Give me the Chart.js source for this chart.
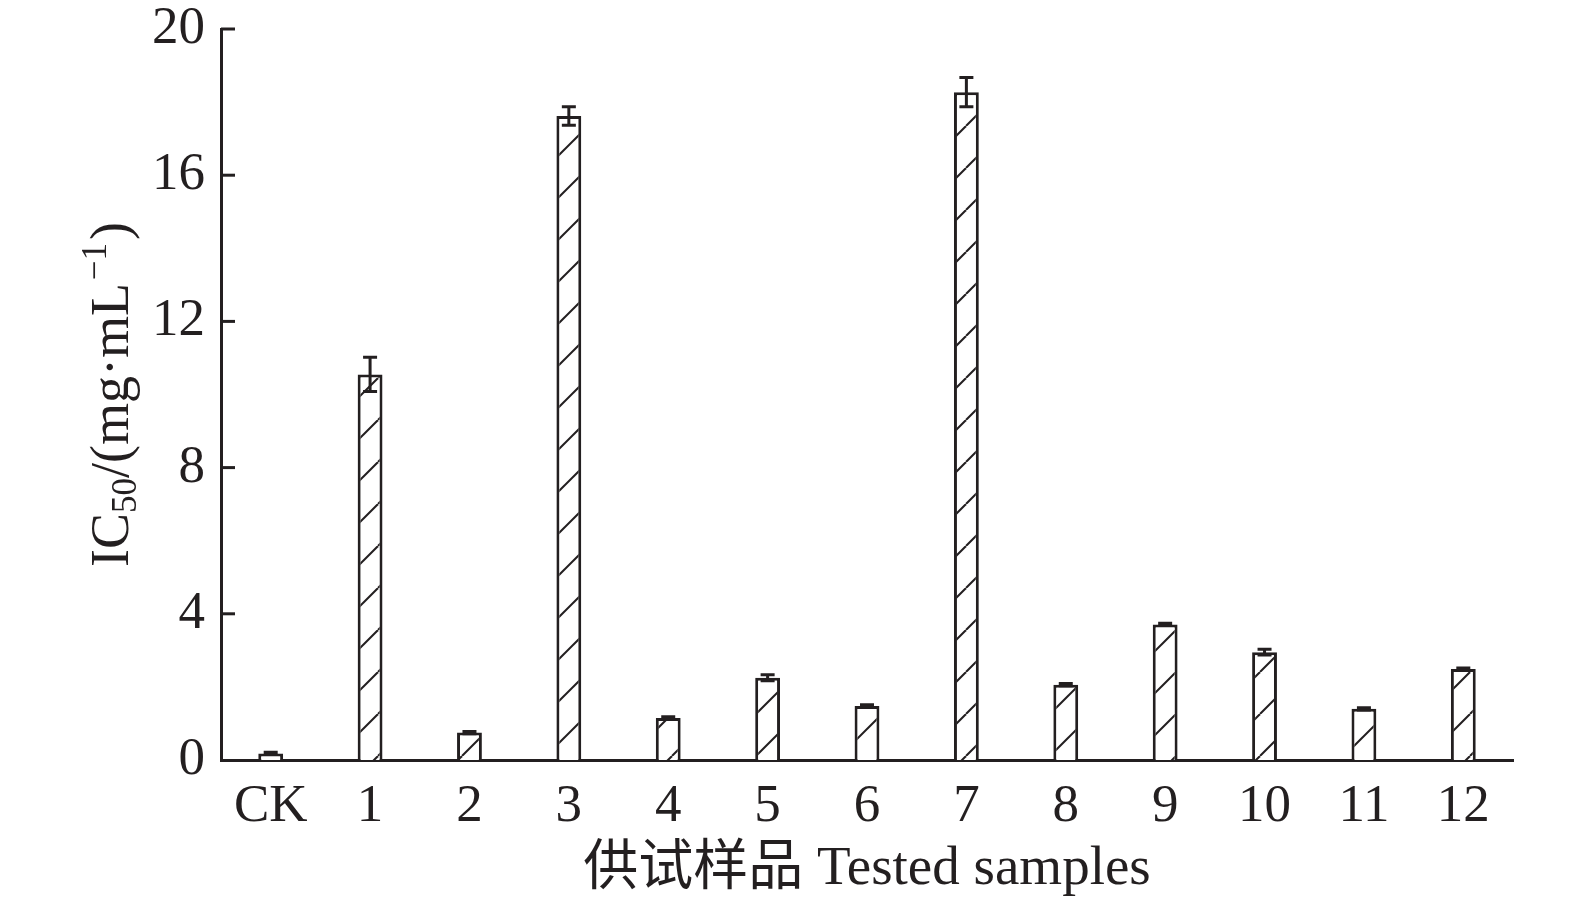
<!DOCTYPE html>
<html>
<head>
<meta charset="utf-8">
<script src="https://cdn.jsdelivr.net/npm/chart.js@4/dist/chart.umd.min.js"></script>
<style>
html,body{margin:0;padding:0;background:#fff;}
#wrap{width:1575px;height:904px;position:relative;}
</style>
</head>
<body>
<div id="wrap"><canvas id="c" width="1575" height="904"></canvas></div>
<script>
const categories = ['CK','1','2','3','4','5','6','7','8','9','10','11','12'];
const values = [0.18, 10.55, 0.75, 17.62, 1.15, 2.25, 1.48, 18.27, 2.06, 3.71, 2.95, 1.40, 2.49];
const errors = [0.03, 0.47, 0.03, 0.25, 0.03, 0.08, 0.03, 0.40, 0.03, 0.03, 0.08, 0.03, 0.03];
const yTicks = [0, 4, 8, 12, 16, 20];
const xTitle = '供试样品 Tested samples';
const yTitleParts = ['IC', '50', '/(mg·mL', '−1', ')'];

const INK = '#231f20';
const FONT = "'Liberation Serif', 'Noto Sans CJK SC', serif";

function makeHatch() {
  const s = 42;
  const p = document.createElement('canvas');
  p.width = s; p.height = s;
  const g = p.getContext('2d');
  g.fillStyle = '#fff';
  g.fillRect(0, 0, s, s);
  g.strokeStyle = INK;
  g.lineWidth = 2;
  for (const o of [-s, 0, s]) {
    g.beginPath();
    g.moveTo(o, s);
    g.lineTo(o + s, 0);
    g.stroke();
  }
  return g.createPattern(p, 'repeat');
}

const decorPlugin = {
  id: 'decor',
  afterDatasetsDraw(chart) {
    const ctx = chart.ctx;
    const y = chart.scales.y;
    const meta = chart.getDatasetMeta(0);
    ctx.save();
    ctx.strokeStyle = INK;
    ctx.lineWidth = 3;
    meta.data.forEach((bar, i) => {
      const v = values[i], e = errors[i];
      const x = bar.x;
      const yt = y.getPixelForValue(v + e);
      const yb = y.getPixelForValue(v - e);
      ctx.beginPath();
      ctx.moveTo(x, yt); ctx.lineTo(x, yb);
      ctx.moveTo(x - 7, yt); ctx.lineTo(x + 7, yt);
      ctx.moveTo(x - 7, yb); ctx.lineTo(x + 7, yb);
      ctx.stroke();
    });
    ctx.lineWidth = 3;
    const left = chart.chartArea.left;
    yTicks.forEach(t => {
      if (t === 0) return;
      const py = y.getPixelForValue(t);
      ctx.beginPath();
      ctx.moveTo(left, py); ctx.lineTo(left + 14, py);
      ctx.stroke();
    });
    ctx.restore();
  },
  afterDraw(chart) {
    const ctx = chart.ctx;
    const area = chart.chartArea;
    const cy = (area.top + area.bottom) / 2;
    const big = 54, small = 35;
    const parts = [
      {t: yTitleParts[0], s: big, dy: 0},
      {t: yTitleParts[1], s: small, dy: 8},
      {t: yTitleParts[2], s: big, dy: 0},
      {t: yTitleParts[3], s: small, dy: -22},
      {t: yTitleParts[4], s: big, dy: 0}
    ];
    ctx.save();
    ctx.fillStyle = INK;
    ctx.textBaseline = 'alphabetic';
    ctx.textAlign = 'left';
    let total = 0;
    parts.forEach(p => { ctx.font = p.s + 'px ' + FONT; p.w = ctx.measureText(p.t).width; total += p.w; });
    total += 6;
    ctx.translate(128, cy);
    ctx.rotate(-Math.PI / 2);
    let x = -total / 2;
    parts.forEach((p, i) => {
      ctx.font = p.s + 'px ' + FONT;
      ctx.fillText(p.t, x, p.dy);
      x += p.w + (i === 2 ? 3 : 0) + (i === 3 ? 3 : 0);
    });
    ctx.restore();
  }
};

new Chart(document.getElementById('c'), {
  type: 'bar',
  data: {
    labels: categories,
    datasets: [{
      data: values,
      backgroundColor: makeHatch(),
      borderColor: INK,
      borderWidth: 3,
      borderSkipped: 'bottom',
      categoryPercentage: 1,
      barPercentage: 0.25
    }]
  },
  options: {
    responsive: false,
    animation: false,
    devicePixelRatio: 1,
    layout: { padding: { left: 0, right: 62, top: 29, bottom: 0 } },
    plugins: { legend: { display: false }, tooltip: { enabled: false } },
    scales: {
      x: {
        type: 'category',
        offset: true,
        grid: { display: false, drawTicks: false },
        border: { display: true, color: INK, width: 3 },
        ticks: { color: INK, font: { family: FONT, size: 53 }, padding: 15, maxRotation: 0, autoSkip: false },
        title: { display: true, text: xTitle, color: INK, font: { family: FONT, size: 55 }, padding: { top: 0, bottom: 1 } },
        afterFit(s) { s.height = 144; s.paddingLeft = 0; s.paddingRight = 0; }
      },
      y: {
        min: 0, max: 20,
        afterBuildTicks(s) { s.ticks = yTicks.map(v => ({ value: v })); },
        grid: { display: false, drawTicks: false },
        border: { display: true, color: INK, width: 3 },
        ticks: { color: INK, font: { family: FONT, size: 53 }, padding: 16 },
        afterFit(s) { s.width = 221; s.paddingTop = 0; s.paddingBottom = 0; }
      }
    }
  },
  plugins: [decorPlugin]
});
</script>
</body>
</html>
